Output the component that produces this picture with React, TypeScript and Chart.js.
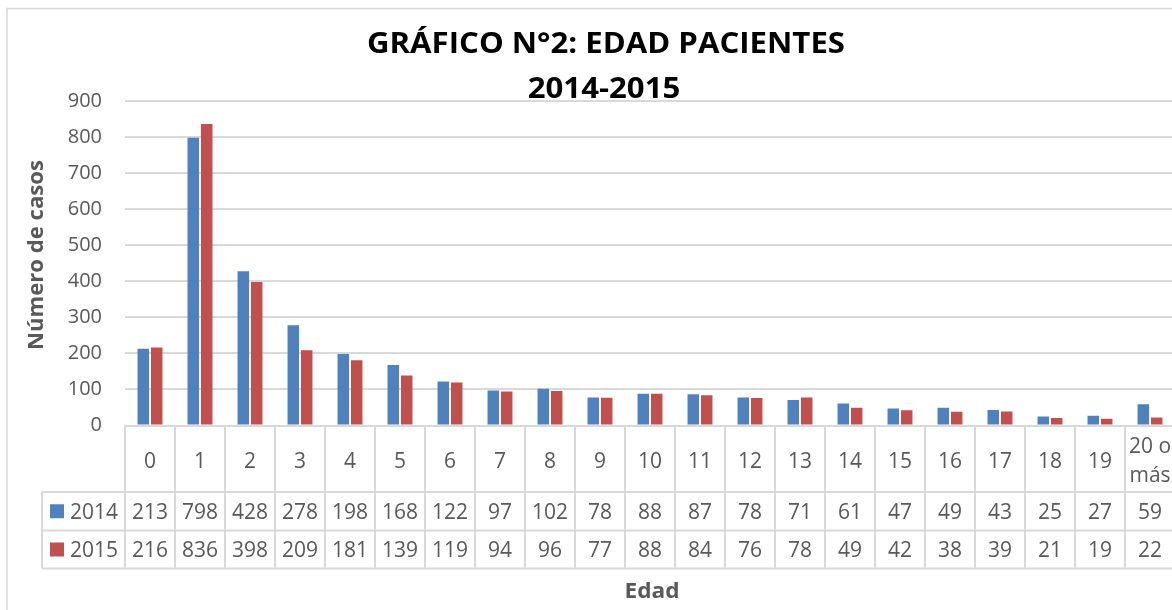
import React, { useEffect, useRef } from "react";
import { Chart, registerables } from "chart.js";

Chart.register(...registerables);

// ---- data ----
const categories: string[] = ["0", "1", "2", "3", "4", "5", "6", "7", "8", "9", "10", "11", "12", "13", "14", "15", "16", "17", "18", "19", "20 o más"];
const seriesNames: string[] = ["2014", "2015"];
const values2014: number[] = [213, 798, 428, 278, 198, 168, 122, 97, 102, 78, 88, 87, 78, 71, 61, 47, 49, 43, 25, 27, 59];
const values2015: number[] = [216, 836, 398, 209, 181, 139, 119, 94, 96, 77, 88, 84, 76, 78, 49, 42, 38, 39, 21, 19, 22];
const yTickValues: number[] = [0, 100, 200, 300, 400, 500, 600, 700, 800, 900];
const titleLines: string[] = ["GRÁFICO N°2: EDAD PACIENTES", "2014-2015"];
const yAxisTitle = "Número de casos";
const xAxisTitle = "Edad";

const COLORS = ["#4f81bd", "#c0504d"];
const GRID = "#d9d9d9";
const TEXT = "#595959";
const FONT = "'Open Sans', 'Liberation Sans', sans-serif";

function fitText(ctx: CanvasRenderingContext2D, text: string, x: number, y: number, font: string, targetW: number | null, align: CanvasTextAlign) {
  ctx.save();
  ctx.font = font;
  ctx.textAlign = align;
  ctx.textBaseline = "alphabetic";
  const w = ctx.measureText(text).width;
  const s = targetW ? targetW / w : 1;
  ctx.translate(x, y);
  ctx.scale(s, 1);
  ctx.fillText(text, 0, 0);
  ctx.restore();
}

const tablePlugin = {
  id: "excelTable",
  afterDraw(chart: any) {
    const ctx: CanvasRenderingContext2D = chart.ctx;
    const xs = chart.scales.x;
    const area = chart.chartArea;
    const n = categories.length;
    const colW = (xs.right - xs.left) / n;
    const yAxis = area.bottom;
    const row1 = 492;
    const row2 = 530.5;
    const row3 = 568.5;
    const legendLeft = 42;

    ctx.save();
    // chart frame
    ctx.strokeStyle = GRID;
    ctx.lineWidth = 1.5;
    ctx.beginPath();
    ctx.moveTo(7, 700);
    ctx.lineTo(7, 8.5);
    ctx.lineTo(1300, 8.5);
    ctx.stroke();

    // table lines
    ctx.lineWidth = 2;
    ctx.beginPath();
    [row1, row2, row3].forEach((y) => {
      ctx.moveTo(legendLeft, y);
      ctx.lineTo(xs.right, y);
    });
    ctx.moveTo(legendLeft, row1);
    ctx.lineTo(legendLeft, row3);
    for (let i = 0; i <= n; i++) {
      const x = xs.left + i * colW;
      ctx.moveTo(x, yAxis);
      ctx.lineTo(x, row3);
    }
    ctx.stroke();

    // category labels
    ctx.fillStyle = TEXT;
    const tf = `21px ${FONT}`;
    categories.forEach((c, i) => {
      const cx = xs.getPixelForValue(i);
      if (c.includes(" o ")) {
        const parts = c.split(" ");
        fitText(ctx, parts.slice(0, 2).join(" "), cx, 453, tf, null, "center");
        fitText(ctx, parts.slice(2).join(" "), cx, 482, tf, null, "center");
      } else {
        fitText(ctx, c, cx, 467.5, tf, null, "center");
      }
    });

    // legend keys and values
    const rows = [values2014, values2015];
    const baselines = [518.5, 557];
    rows.forEach((vals, r) => {
      const mid = r === 0 ? (row1 + row2) / 2 : (row2 + row3) / 2;
      ctx.fillStyle = COLORS[r];
      ctx.fillRect(50, mid - 7, 14, 14);
      ctx.fillStyle = TEXT;
      fitText(ctx, seriesNames[r], 70, baselines[r], tf, null, "left");
      vals.forEach((v, i) => {
        fitText(ctx, String(v), xs.getPixelForValue(i), baselines[r], tf, null, "center");
      });
    });

    // axis titles
    ctx.fillStyle = TEXT;
    fitText(ctx, xAxisTitle, 652, 598, `bold 22px ${FONT}`, 55, "center");
    ctx.save();
    ctx.translate(42.5, 255);
    ctx.rotate(-Math.PI / 2);
    fitText(ctx, yAxisTitle, 0, 0, `bold 22px ${FONT}`, 190, "center");
    ctx.restore();

    // chart title
    ctx.fillStyle = "#000000";
    const titleFont = `bold 28px ${FONT}`;
    ctx.font = titleFont;
    const w1 = ctx.measureText(titleLines[0]).width;
    const s = 478 / w1;
    const w2 = ctx.measureText(titleLines[1]).width * s;
    fitText(ctx, titleLines[0], 606, 52.5, titleFont, 478, "center");
    fitText(ctx, titleLines[1], 604, 97.5, titleFont, w2, "center");
    ctx.restore();
  },
};

export default function App() {
  const canvasRef = useRef<HTMLCanvasElement | null>(null);

  useEffect(() => {
    const canvas = canvasRef.current;
    if (!canvas) return;
    const chart = new Chart(canvas, {
      type: "bar",
      data: {
        labels: categories,
        datasets: [
          { label: seriesNames[0], data: values2014, backgroundColor: COLORS[0], categoryPercentage: 0.536, barPercentage: 0.86 },
          { label: seriesNames[1], data: values2015, backgroundColor: COLORS[1], categoryPercentage: 0.536, barPercentage: 0.86 },
        ],
      },
      options: {
        responsive: false,
        animation: false,
        devicePixelRatio: 1,
        layout: { padding: { left: 0, top: 101, right: 25, bottom: 184.5 } },
        plugins: {
          legend: { display: false },
          title: { display: false },
          tooltip: { enabled: false },
        },
        scales: {
          x: {
            grid: { display: false, drawTicks: false },
            border: { display: true, color: GRID, width: 2 },
            ticks: { display: false },
            afterFit: (s: any) => { s.height = 0; },
          },
          y: {
            min: 0,
            max: 900,
            afterBuildTicks: (s: any) => { s.ticks = yTickValues.map((v) => ({ value: v })); },
            grid: { color: GRID, lineWidth: 2, drawTicks: false },
            border: { display: false },
            ticks: { color: TEXT, font: { family: FONT, size: 20 }, padding: 23 },
            afterFit: (s: any) => { s.width = 125; },
          },
        },
      },
      plugins: [tablePlugin],
    });
    return () => chart.destroy();
  }, []);

  return (
    <div style={{ position: "absolute", left: 0, top: 0, width: 1172, height: 610, overflow: "hidden", background: "#ffffff" }}>
      <canvas ref={canvasRef} width={1200} height={610} style={{ display: "block", width: 1200, height: 610 }} />
    </div>
  );
}
